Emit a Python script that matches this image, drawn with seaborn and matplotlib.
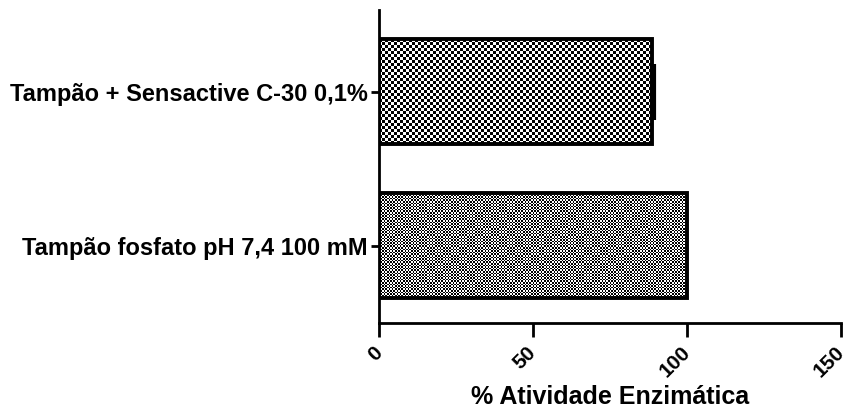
import numpy as np
import pandas as pd
import matplotlib
matplotlib.use("Agg")
import matplotlib.pyplot as plt
import seaborn as sns

# Enzyme activity for each buffer condition
categories = ["Tampão + Sensactive C-30 0,1%", "Tampão fosfato pH 7,4 100 mM"]
activity = [88.5, 100.0]
activity_sd = [0.8, 0.0]
x_ticks = [0, 50, 100, 150]
x_label = "% Atividade Enzimática"

# checkerboard square size (pixels) used as fill texture for each bar
checker_px = [3.0, 1.6]

sns.set_theme(style="ticks")
plt.rcParams["font.family"] = ["Liberation Sans", "DejaVu Sans"]
plt.rcParams["font.weight"] = "bold"
plt.rcParams["text.color"] = "black"
plt.rcParams["axes.labelcolor"] = "black"
plt.rcParams["xtick.color"] = "black"
plt.rcParams["ytick.color"] = "black"

fig = plt.figure(figsize=(8.47, 4.12), dpi=100)
ax = fig.add_axes([0.4475, 0.216, 0.5455, 0.76])

df = pd.DataFrame({"condicao": categories, "atividade": activity})
sns.barplot(data=df, x="atividade", y="condicao", orient="h", width=0.68,
            facecolor="none", edgecolor="black", linewidth=2.8,
            errorbar=None, ax=ax, zorder=3)

ax.set_xlim(0, 150)
ax.set_ylim(1.5, -0.53)
fig.canvas.draw()

# Fill each bar with a black/white checkerboard clipped to the bar
for patch, sq in zip(ax.patches, checker_px):
    bb = patch.get_bbox()
    disp = patch.get_window_extent()
    nx = max(int(round(disp.width / sq)), 2)
    ny = max(int(round(disp.height / sq)), 2)
    board = np.indices((ny, nx)).sum(axis=0) % 2
    im = ax.imshow(board, cmap="gray", vmin=0, vmax=1, interpolation="nearest",
                   extent=[bb.x0, bb.x1, bb.y1, bb.y0], aspect="auto", zorder=2.5)
    im.set_clip_path(patch)

# One-sided (upper) error caps, only where a spread was measured
centers = [p.get_y() + p.get_height() / 2 for p in ax.patches]
for x, y, sd in zip(activity, centers, activity_sd):
    if sd > 0:
        ax.errorbar([x], [y], xerr=[[0], [sd]], fmt="none", ecolor="black",
                    elinewidth=2.5, capsize=20, capthick=3, zorder=4)

ax.set_xlim(0, 150)
ax.set_ylim(1.5, -0.53)
ax.set_xticks(x_ticks)
ax.set_xticklabels([str(t) for t in x_ticks], rotation=45, ha="right",
                   va="center", rotation_mode="anchor", fontsize=15,
                   fontweight="bold")
ax.set_yticks(range(len(categories)))
ax.set_yticklabels(categories, fontsize=17, fontweight="bold")
ax.set_ylabel("")
ax.set_xlabel(x_label, fontsize=18, fontweight="bold", labelpad=3)

sns.despine(ax=ax)
for s in ("left", "bottom"):
    ax.spines[s].set_linewidth(2)
    ax.spines[s].set_color("black")
ax.tick_params(axis="x", length=10, width=2, color="black", pad=9)
ax.tick_params(axis="y", length=6, width=2, color="black", pad=2)

fig.savefig("out.png", dpi=100)
